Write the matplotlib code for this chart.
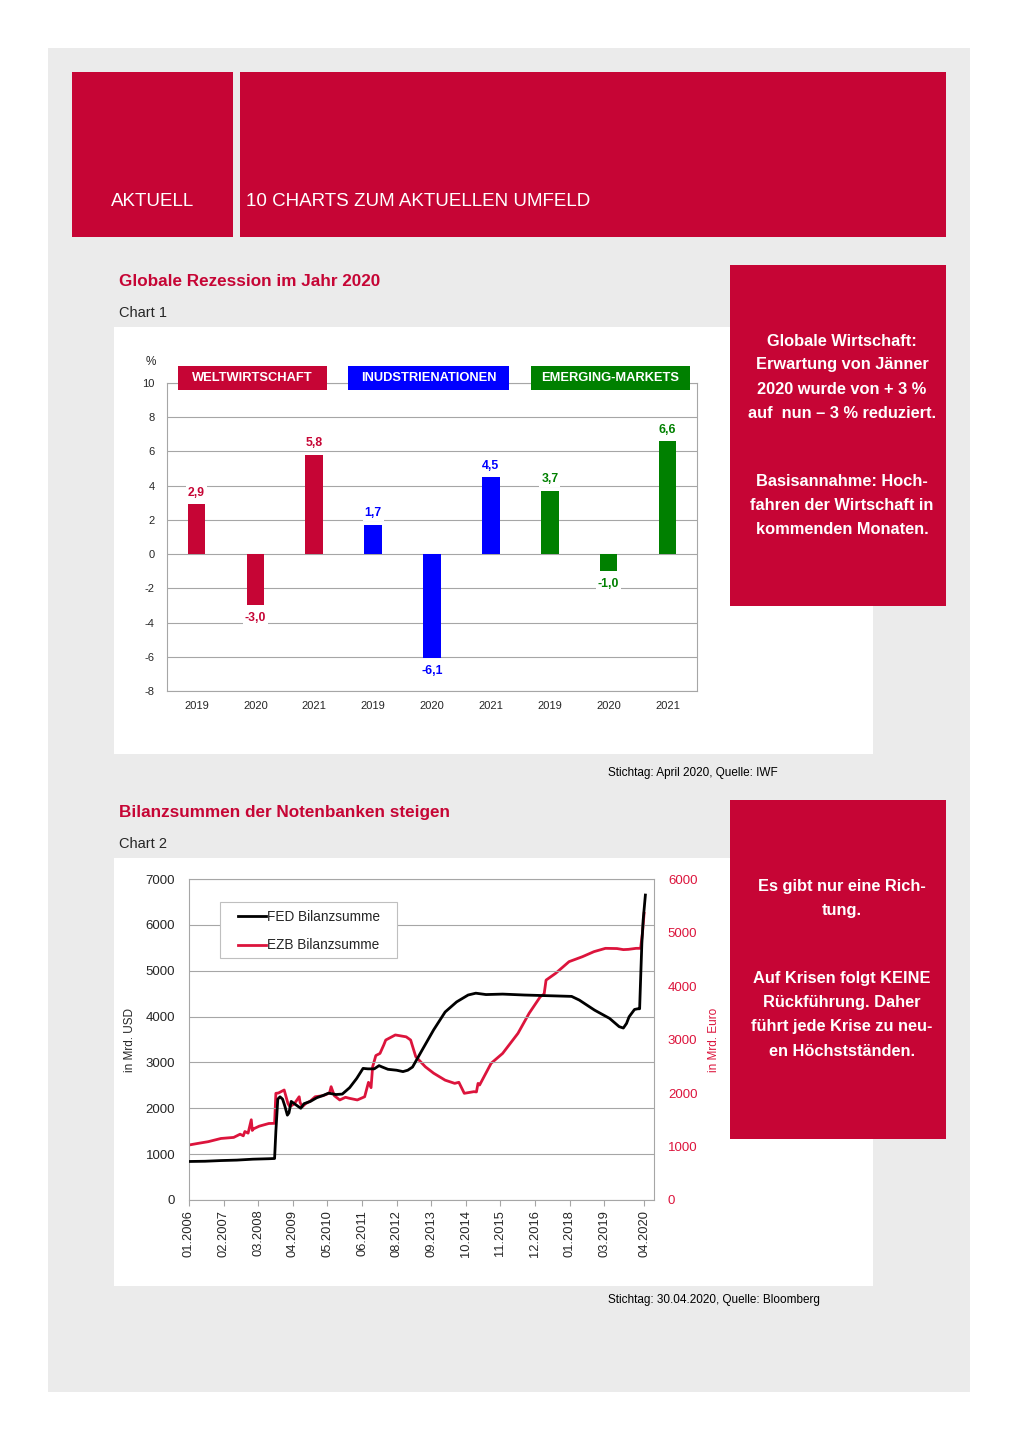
import matplotlib
matplotlib.use("Agg")
import matplotlib.pyplot as plt
from matplotlib.patches import Rectangle
from matplotlib.lines import Line2D

# ---------------- data ----------------
groups = ["WELTWIRTSCHAFT", "INUDSTRIENATIONEN", "EMERGING-MARKETS"]
years = ["2019", "2020", "2021"]
welt = [2.9, -3.0, 5.8]
indu = [1.7, -6.1, 4.5]
emer = [3.7, -1.0, 6.6]
c1_yticks = [10, 8, 6, 4, 2, 0, -2, -4, -6, -8]

fed_x = [2006.0, 2006.5, 2007.0, 2007.5, 2008.0, 2008.5, 2008.68, 2008.72, 2008.78, 2008.85,
         2008.93, 2009.0, 2009.08, 2009.13, 2009.2, 2009.3, 2009.4, 2009.5, 2009.6, 2009.8,
         2010.0, 2010.2, 2010.37, 2010.6, 2010.8, 2011.03, 2011.25, 2011.45, 2011.6, 2011.8,
         2011.95, 2012.05, 2012.23, 2012.5, 2012.7, 2012.85, 2013.0, 2013.3, 2013.66, 2014.02,
         2014.38, 2014.74, 2014.98, 2015.3, 2015.82, 2016.5, 2017.0, 2017.5, 2017.98, 2018.22,
         2018.7, 2019.17, 2019.47, 2019.6, 2019.7, 2019.78, 2019.95, 2020.05, 2020.11, 2020.14,
         2020.18, 2020.22, 2020.29]
fed_y = [840, 845, 860, 870, 890, 900, 905, 1500, 2200, 2250,
         2200, 2050, 1850, 1900, 2150, 2100, 2050, 2000, 2100, 2150,
         2230, 2280, 2330, 2300, 2310, 2450, 2650, 2870, 2860, 2860,
         2930, 2900, 2850, 2830, 2800, 2830, 2900, 3270, 3710, 4100,
         4320, 4470, 4510, 4480, 4490, 4470, 4460, 4450, 4440, 4360,
         4140, 3960, 3780, 3750, 3850, 3995, 4155, 4170, 4170, 4800,
         5600, 6100, 6650]

ezb_x = [2006.0, 2006.3, 2006.6, 2007.0, 2007.4, 2007.6, 2007.7, 2007.75, 2007.85, 2007.95,
         2007.98, 2008.02, 2008.2, 2008.5, 2008.68, 2008.72, 2008.8, 2008.98, 2009.1, 2009.16,
         2009.3, 2009.45, 2009.48, 2009.55, 2009.65, 2009.8, 2009.95, 2010.2, 2010.4, 2010.45,
         2010.55, 2010.72, 2010.9, 2011.03, 2011.27, 2011.5, 2011.62, 2011.7, 2011.75, 2011.85,
         2011.98, 2012.1, 2012.16, 2012.46, 2012.8, 2012.94, 2013.1, 2013.4, 2013.66, 2014.02,
         2014.32, 2014.45, 2014.62, 2014.92, 2015.0, 2015.05, 2015.1, 2015.46, 2015.82, 2016.3,
         2016.65, 2017.0, 2017.12, 2017.18, 2017.48, 2017.9, 2018.32, 2018.68, 2019.04, 2019.4,
         2019.6, 2019.76, 2020.0, 2020.14, 2020.2, 2020.25]
ezb_y = [1028, 1060, 1090, 1150, 1170, 1230, 1200, 1280, 1250, 1500,
         1300, 1330, 1380, 1430, 1433, 1994, 2000, 2056, 1800, 1745,
         1800, 1930, 1820, 1745, 1800, 1850, 1930, 1950, 2000, 2118,
         1950, 1870, 1920, 1900, 1870, 1930, 2200, 2100, 2490, 2700,
         2740, 2900, 2990, 3085, 3050, 2990, 2680, 2490, 2370, 2240,
         2180, 2200, 1994, 2025, 2020, 2180, 2150, 2555, 2740, 3115,
         3490, 3800, 3850, 4110, 4237, 4455, 4548, 4642, 4704, 4700,
         4680, 4685, 4704, 4704, 5000, 5358]

c2_tick_labels = ["01.2006", "02.2007", "03.2008", "04.2009", "05.2010", "06.2011", "08.2012",
                  "09.2013", "10.2014", "11.2015", "12.2016", "01.2018", "03.2019", "04.2020"]
c2_tick_pos = [2006.0, 2007.083, 2008.167, 2009.25, 2010.333, 2011.417, 2012.5,
               2013.583, 2014.667, 2015.75, 2016.833, 2017.917, 2019.0, 2020.25]

# ---------------- style ----------------
FONT = ["Liberation Sans", "DejaVu Sans"]
plt.rcParams["font.family"] = FONT
RED = "#C60535"
BLUE = "#0000FF"
GREEN = "#008000"
LINE_RED = "#DC143C"
GRAY_BG = "#EBEBEB"
GRID = "#A6A6A6"
TXT = "#262626"

W, H = 1019, 1440
fig = plt.figure(figsize=(W / 100, H / 100), dpi=100)
fig.patch.set_facecolor("white")


def rect(x0, y0, x1, y1):
    return [x0 / W, 1 - y1 / H, (x1 - x0) / W, (y1 - y0) / H]


def box(x0, y0, x1, y1, color, z=0):
    r = rect(x0, y0, x1, y1)
    fig.add_artist(Rectangle((r[0], r[1]), r[2], r[3], transform=fig.transFigure,
                             facecolor=color, edgecolor="none", zorder=z))


def ftext(x, y, s, **kw):
    return fig.text(x / W, 1 - y / H, s, **kw)


# page background
box(48, 48, 970, 1392, GRAY_BG, z=0)
# header
box(72, 72, 233, 237, RED, z=1)
box(240, 72, 946, 237, RED, z=1)
ftext(111, 201, "AKTUELL", color="white", fontsize=13.5, va="center", ha="left", zorder=2)
ftext(246, 201, "10 CHARTS ZUM AKTUELLEN UMFELD", color="white", fontsize=13.5,
      va="center", ha="left", zorder=2)

# section 1
ftext(119, 281, "Globale Rezession im Jahr 2020", color=RED, fontsize=12.3, fontweight="bold",
      va="center", ha="left")
ftext(119, 313, "Chart 1", color=TXT, fontsize=10.5, va="center", ha="left")
box(114, 327, 873, 754, "white", z=1)
box(730, 265, 946, 606, RED, z=2)
ftext(842, 377, "Globale Wirtschaft:\nErwartung von Jänner\n2020 wurde von + 3 %\nauf  nun – 3 % reduziert.",
      color="white", fontsize=11.8, fontweight="bold", ha="center", va="center", linespacing=1.75, zorder=3)
ftext(842, 506, "Basisannahme: Hoch-\nfahren der Wirtschaft in\nkommenden Monaten.",
      color="white", fontsize=11.8, fontweight="bold", ha="center", va="center", linespacing=1.75, zorder=3)
ftext(608, 773, "Stichtag: April 2020, Quelle: IWF", color="black", fontsize=8.5, va="center", ha="left")

# chart 1 axes
ax1 = fig.add_axes(rect(167, 383, 697, 691), zorder=3)
ax1.set_facecolor("white")
values = welt + indu + emer
colors = [RED] * 3 + [BLUE] * 3 + [GREEN] * 3
xs = list(range(len(values)))
ax1.bar(xs, values, width=0.3, color=colors, zorder=3)
ax1.set_xlim(-0.5, 8.5)
ax1.set_ylim(-8, 10)
ax1.set_yticks(c1_yticks)
ax1.set_yticklabels([str(v) for v in c1_yticks])
ax1.set_xticks(xs)
ax1.set_xticklabels(years * 3)
ax1.grid(axis="y", color=GRID, lw=0.8, zorder=0)
ax1.set_axisbelow(True)
for sp in ax1.spines.values():
    sp.set_color(GRID)
    sp.set_linewidth(0.8)
ax1.tick_params(axis="both", length=0, labelsize=8, labelcolor=TXT)
ax1.tick_params(axis="y", pad=9)
ax1.tick_params(axis="x", pad=7)
for x, v, c in zip(xs, values, colors):
    lab = f"{v:.1f}".replace(".", ",")
    if v >= 0:
        ax1.annotate(lab, (x, v), xytext=(0, 4), textcoords="offset points", ha="center", va="bottom",
                     color=c, fontsize=8.8, fontweight="bold", zorder=5,
                     bbox=dict(boxstyle="square,pad=0.15", fc="white", ec="none"))
    else:
        ax1.annotate(lab, (x, v), xytext=(0, -5), textcoords="offset points", ha="center", va="top",
                     color=c, fontsize=8.8, fontweight="bold", zorder=5,
                     bbox=dict(boxstyle="square,pad=0.15", fc="white", ec="none"))
ftext(151, 362, "%", color=TXT, fontsize=8.5, ha="center", va="center", zorder=4)
for (x0, x1), g, c in zip([(178, 327), (348, 509), (531, 690)], groups, [RED, BLUE, GREEN]):
    box(x0, 366, x1, 390, c, z=5)
    ftext((x0 + x1) / 2, 378, g, color="white", fontsize=9.3, fontweight="bold", ha="center",
          va="center", zorder=6)

# section 2
ftext(119, 813, "Bilanzsummen der Notenbanken steigen", color=RED, fontsize=12.3, fontweight="bold",
      va="center", ha="left")
ftext(119, 844, "Chart 2", color=TXT, fontsize=10.5, va="center", ha="left")
box(114, 858, 873, 1286, "white", z=1)
box(730, 800, 946, 1139, RED, z=2)
ftext(842, 898, "Es gibt nur eine Rich-\ntung.",
      color="white", fontsize=11.8, fontweight="bold", ha="center", va="center", linespacing=1.75, zorder=3)
ftext(842, 1015, "Auf Krisen folgt KEINE\nRückführung. Daher\nführt jede Krise zu neu-\nen Höchstständen.",
      color="white", fontsize=11.8, fontweight="bold", ha="center", va="center", linespacing=1.75, zorder=3)
ftext(608, 1300, "Stichtag: 30.04.2020, Quelle: Bloomberg", color="black", fontsize=8.5,
      va="center", ha="left")

ax2 = fig.add_axes(rect(189, 879, 654, 1200), zorder=3)
ax2.set_facecolor("white")
ax2.set_xlim(2006.0, 2020.56)
ax2.set_ylim(0, 7000)
ax2.set_yticks(range(0, 7001, 1000))
ax2.grid(axis="y", color=GRID, lw=0.8)
ax2.set_axisbelow(True)
for sp in ax2.spines.values():
    sp.set_color(GRID)
    sp.set_linewidth(0.8)
ax2.set_xticks(c2_tick_pos)
ax2.set_xticklabels(c2_tick_labels, rotation=90)
ax2.tick_params(axis="x", length=4, color=GRID, labelsize=9.3, labelcolor=TXT, pad=3)
ax2.tick_params(axis="y", length=0, labelsize=9.5, labelcolor=TXT, pad=10)
ax2.set_ylabel("in Mrd. USD", fontsize=8.5, color=TXT)
ax2.yaxis.set_label_coords(-0.113, 0.5)

ax3 = ax2.twinx()
ax3.set_ylim(0, 6000)
ax3.set_yticks(range(0, 6001, 1000))
ax3.tick_params(axis="y", length=0, labelsize=9.5, labelcolor=LINE_RED, pad=10)
for sp in ax3.spines.values():
    sp.set_visible(False)
ax3.set_ylabel("in Mrd. Euro", fontsize=8.5, color=LINE_RED)
ax3.yaxis.set_label_coords(1.116, 0.5)

ax3.plot(ezb_x, ezb_y, color=LINE_RED, lw=2.0, zorder=2)
ax2.plot(fed_x, fed_y, color="black", lw=2.0, zorder=3)
ax2.set_zorder(ax3.get_zorder() + 1)
ax2.patch.set_visible(False)
ax3.patch.set_visible(True)
ax3.patch.set_facecolor("white")

# legend frame (white box with grey border) and legend entries
lr = rect(220, 902, 397, 958)
ax2.add_patch(Rectangle((lr[0], lr[1]), lr[2], lr[3], transform=fig.transFigure,
                        facecolor="white", edgecolor="#BFBFBF", lw=0.8, zorder=4.5, clip_on=False))
handles = [Line2D([], [], color="black", lw=2.0), Line2D([], [], color=LINE_RED, lw=2.0)]
leg = ax2.legend(handles, ["FED Bilanzsumme", "EZB Bilanzsumme"], loc="upper left",
                 bbox_to_anchor=((238 - 189) / 465, 1 - (910 - 879) / 321), frameon=False,
                 fontsize=9.8, handlelength=2.05, handletextpad=0.1,
                 labelspacing=1.05, borderpad=0.0, borderaxespad=0)
leg.set_zorder(5)
for txt in leg.get_texts():
    txt.set_color(TXT)

fig.savefig("out.png", dpi=100, facecolor="white")
